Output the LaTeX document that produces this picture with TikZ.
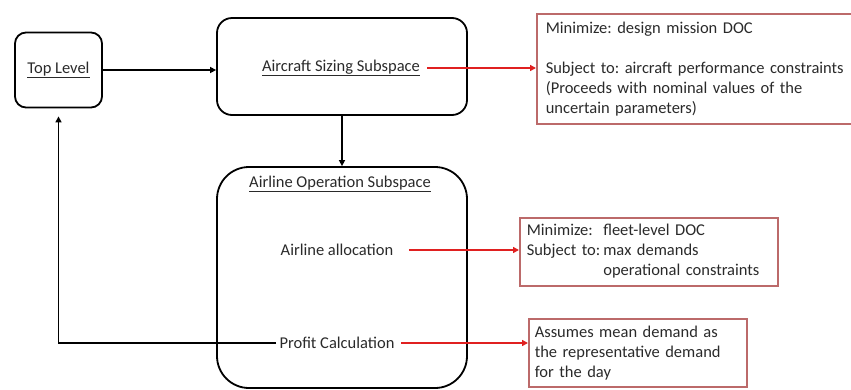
\documentclass[tikz,border=0pt]{standalone}
\usepackage{fontspec}
\setmainfont{Carlito}
\usetikzlibrary{arrows.meta}
\definecolor{txt}{HTML}{2A2A2A}
\definecolor{boxred}{HTML}{BC6A6A}
\definecolor{arrred}{HTML}{E02020}
\begin{document}
\begin{tikzpicture}[x=1pt,y=-1pt,
  every node/.style={text=txt, font=\fontsize{16.5}{20}\selectfont\frenchspacing},
  blkbox/.style={draw=black, line width=1.8pt, inner sep=0pt},
  redbox/.style={draw=boxred, line width=1.5pt, anchor=north west, align=left, inner ysep=0pt},
  blkarrow/.style={draw=black, line width=1.8pt, -{Triangle[length=6pt,width=6pt]}},
  redarrow/.style={draw=arrred, line width=1.8pt, -{Triangle[length=6pt,width=6pt]}}
]
\useasboundingbox (0,0) rectangle (851,389);
\clip (0,0) rectangle (851,389);

% black boxes
\node[blkbox, rounded corners=11pt, minimum width=87pt, minimum height=75pt] (top) at (58.5,70) {\underline{Top Level}};
\node[blkbox, rounded corners=15pt, minimum width=250pt, minimum height=97pt] (asbox) at (342,66.5) {};
\node (astext) at (341,68) {\underline{Aircraft Sizing Subspace}};
\node[blkbox, rounded corners=32pt, minimum width=250pt, minimum height=221pt] (aos) at (342,277.5) {};
\node (aostitle) at (340,184) {\underline{Airline Operation Subspace}};
\node (alloc) at (337,250) {Airline allocation};
\node (profit) at (337,343) {Profit Calculation};

% red boxes
\node[redbox, minimum height=110pt, text width=352pt, inner xsep=9pt] (b1) at (536,13)
  {Minimize: design mission DOC\\[20pt]Subject to: aircraft performance constraints\\(Proceeds with nominal values of the\\uncertain parameters)};
\node[redbox, minimum width=258pt, minimum height=68pt, text width=244pt, inner xsep=7pt] (b2) at (519,217)
  {\begin{tabular}{@{}l@{\hspace{3pt}}l@{}}Minimize: & fleet-level DOC\\ Subject to: & max demands\\ & operational constraints\end{tabular}};
\node[redbox, minimum width=218pt, minimum height=68pt, text width=206pt, inner xsep=6pt] (b3) at (528,318)
  {Assumes mean demand as\\the representative demand\\for the day};

% connectors
\draw[blkarrow] (top.east) -- (top.east -| asbox.west);
\draw[blkarrow] (asbox.south) -- (aos.north);
\draw[blkarrow] (profit.west) -| ([yshift=-8pt]top.south);
\draw[redarrow] ([xshift=4pt]astext.east) -- (astext.east -| b1.west);
\draw[redarrow] ([xshift=12pt]alloc.east) -- (alloc.east -| b2.west);
\draw[redarrow] ([xshift=3pt]profit.east) -- (profit.east -| b3.west);
\end{tikzpicture}
\end{document}
